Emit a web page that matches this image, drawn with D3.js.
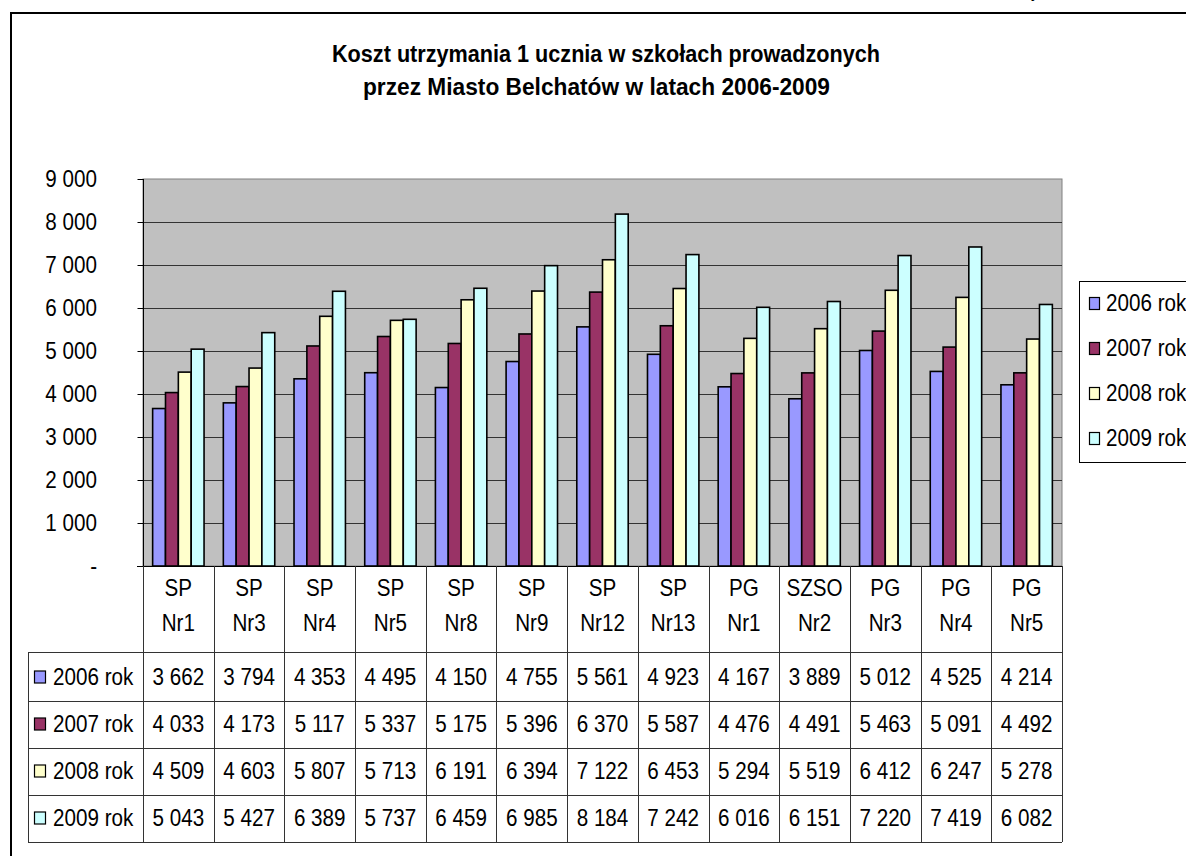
<!DOCTYPE html>
<html>
<head>
<meta charset="utf-8">
<script src="https://cdn.jsdelivr.net/npm/d3@7"></script>
<style>
  body { margin: 0; background: #fff; }
  text { font-family: 'Liberation Sans', Arial, sans-serif; fill: #000; }
</style>
</head>
<body>
<div id="chart"></div>
<script>
// data
let categories = ['SP Nr1', 'SP Nr3', 'SP Nr4', 'SP Nr5', 'SP Nr8', 'SP Nr9', 'SP Nr12',
  'SP Nr13', 'PG Nr1', 'SZSO Nr2', 'PG Nr3', 'PG Nr4', 'PG Nr5']
let years = ['2006 rok', '2007 rok', '2008 rok', '2009 rok']
let v2006 = [3662, 3794, 4353, 4495, 4150, 4755, 5561, 4923, 4167, 3889, 5012, 4525, 4214]
let v2007 = [4033, 4173, 5117, 5337, 5175, 5396, 6370, 5587, 4476, 4491, 5463, 5091, 4492]
let v2008 = [4509, 4603, 5807, 5713, 6191, 6394, 7122, 6453, 5294, 5519, 6412, 6247, 5278]
let v2009 = [5043, 5427, 6389, 5737, 6459, 6985, 8184, 7242, 6016, 6151, 7220, 7419, 6082]
let yTicks = [0, 1000, 2000, 3000, 4000, 5000, 6000, 7000, 8000, 9000]
let titleLines = ['Koszt utrzymania 1 ucznia w szkołach prowadzonych',
  'przez Miasto Belchatów w latach 2006-2009']

let series = [v2006, v2007, v2008, v2009]
let colors = ['#9999FF', '#993366', '#FFFFCC', '#CCFFFF']

let width = 1186
let height = 856

let svg = d3.select('#chart')
  .append('svg')
  .attr('width', width)
  .attr('height', height)

let locale = d3.formatLocale({ decimal: ',', thousands: ' ', grouping: [3], currency: ['', ''] })
let fmt0 = locale.format(',d')
let fmt = d => (d === 0 ? '-' : fmt0(d))

// narrow Arial look: squash text horizontally
let squeeze = 0.86
function label(parent, x, y, str, anchor, size) {
  return parent.append('text')
    .attr('transform', `translate(${x},${y}) scale(${squeeze},1)`)
    .attr('text-anchor', anchor || 'middle')
    .attr('dominant-baseline', 'central')
    .attr('font-size', size || 24)
    .text(str)
}

// chart area border (runs off the page on the right)
svg.append('rect')
  .attr('x', 11).attr('y', 13)
  .attr('width', 1300).attr('height', 900)
  .attr('fill', 'none')
  .attr('stroke', '#000')
  .attr('stroke-width', 2)

// stray glyph of text above the chart
svg.append('text')
  .attr('x', 1031).attr('y', -2)
  .attr('font-size', 16)
  .text('y')

// title
let titleX = [332, 363]
let titleLen = [548, 467]
let titleY = [62, 95]
titleLines.forEach((t, i) => {
  svg.append('text')
    .attr('x', titleX[i])
    .attr('y', titleY[i])
    .attr('font-size', 23)
    .attr('font-weight', 'bold')
    .attr('textLength', titleLen[i])
    .attr('lengthAdjust', 'spacingAndGlyphs')
    .text(t)
})

let plot = { left: 143, right: 1062, top: 179, bottom: 566 }

let x0 = d3.scaleBand()
  .domain(categories)
  .range([plot.left, plot.right])

let x1 = d3.scaleBand()
  .domain(years)
  .range([0, x0.bandwidth()])
  .paddingOuter(0.75)

let y = d3.scaleLinear()
  .domain([0, 9000])
  .range([plot.bottom, plot.top])

// plot area
svg.append('rect')
  .attr('x', plot.left).attr('y', plot.top)
  .attr('width', plot.right - plot.left)
  .attr('height', plot.bottom - plot.top)
  .attr('fill', '#C0C0C0')
  .attr('stroke', '#808080')
  .attr('stroke-width', 1)

// gridlines
svg.append('g')
  .selectAll('line')
  .data(yTicks.filter(d => d > 0 && d < 9000))
  .enter().append('line')
  .attr('x1', plot.left).attr('x2', plot.right)
  .attr('y1', d => Math.round(y(d)) + 0.5)
  .attr('y2', d => Math.round(y(d)) + 0.5)
  .attr('stroke', '#333')
  .attr('stroke-width', 1)

// bars
years.forEach((yr, si) => {
  svg.append('g')
    .selectAll('rect')
    .data(series[si])
    .enter().append('rect')
    .attr('x', (d, i) => x0(categories[i]) + x1(yr))
    .attr('y', d => y(d))
    .attr('width', x1.bandwidth())
    .attr('height', d => y(0) - y(d))
    .attr('fill', colors[si])
    .attr('stroke', '#000')
    .attr('stroke-width', 1.6)
})

// y axis
let yAxis = d3.axisLeft(y)
  .tickValues(yTicks)
  .tickSize(6)
  .tickFormat('')
let ag = svg.append('g')
  .attr('transform', `translate(${plot.left + 0.5},0)`)
  .call(yAxis)
ag.select('.domain').remove()
ag.selectAll('.tick line').attr('stroke', '#000')
ag.append('line')
  .attr('x1', 0).attr('x2', 0)
  .attr('y1', plot.top).attr('y2', plot.bottom)
  .attr('stroke', '#000')
yTicks.forEach(t => {
  label(svg, 97, y(t), fmt(t), 'end')
})

// x axis baseline
svg.append('line')
  .attr('x1', plot.left - 6).attr('x2', plot.right)
  .attr('y1', plot.bottom + 0.5).attr('y2', plot.bottom + 0.5)
  .attr('stroke', '#000')

// data table
let tableBottom = 842
let catBottom = 652
let keyLeft = 28
let rows = d3.scaleBand()
  .domain(years)
  .range([654, tableBottom])

let lineColor = '#333'
let tg = svg.append('g')

// vertical separators
let bounds = categories.map(c => x0(c)).concat([plot.right])
tg.selectAll('line.v')
  .data(bounds)
  .enter().append('line')
  .attr('x1', d => Math.round(d) + 0.5)
  .attr('x2', d => Math.round(d) + 0.5)
  .attr('y1', plot.bottom)
  .attr('y2', tableBottom)
  .attr('stroke', lineColor)
tg.append('line')
  .attr('x1', keyLeft + 0.5).attr('x2', keyLeft + 0.5)
  .attr('y1', catBottom).attr('y2', tableBottom)
  .attr('stroke', lineColor)

// horizontal separators
let hLines = [catBottom].concat(years.slice(1).map(r => rows(r))).concat([tableBottom])
tg.selectAll('line.h')
  .data(hLines)
  .enter().append('line')
  .attr('x1', keyLeft).attr('x2', plot.right)
  .attr('y1', d => Math.round(d) + 0.5)
  .attr('y2', d => Math.round(d) + 0.5)
  .attr('stroke', lineColor)

// category labels
categories.forEach(c => {
  let parts = c.split(' ')
  let cx = x0(c) + x0.bandwidth() / 2
  label(tg, cx, 588, parts[0])
  label(tg, cx, 623, parts[1])
})

// row keys + values
years.forEach((yr, si) => {
  let cy = rows(yr) + rows.bandwidth() / 2 - 1
  tg.append('rect')
    .attr('x', 34.5).attr('y', cy - 5.5)
    .attr('width', 11).attr('height', 12)
    .attr('fill', colors[si])
    .attr('stroke', '#000')
    .attr('stroke-width', 1.2)
  label(tg, 53, cy, yr, 'start')
  series[si].forEach((v, i) => {
    label(tg, x0(categories[i]) + x0.bandwidth() / 2, cy, fmt(v))
  })
})

// legend (cut off on the right)
let lg = svg.append('g')
lg.append('rect')
  .attr('x', 1079.5).attr('y', 281.5)
  .attr('width', 200).attr('height', 181)
  .attr('fill', '#fff')
  .attr('stroke', '#000')
let legendY = d3.scalePoint()
  .domain(years)
  .range([303, 438])
years.forEach((yr, si) => {
  let cy = legendY(yr)
  lg.append('rect')
    .attr('x', 1089.5).attr('y', cy - 5.5)
    .attr('width', 10).attr('height', 12)
    .attr('fill', colors[si])
    .attr('stroke', '#000')
    .attr('stroke-width', 1.2)
  label(lg, 1106, cy, yr, 'start')
})
</script>
</body>
</html>
